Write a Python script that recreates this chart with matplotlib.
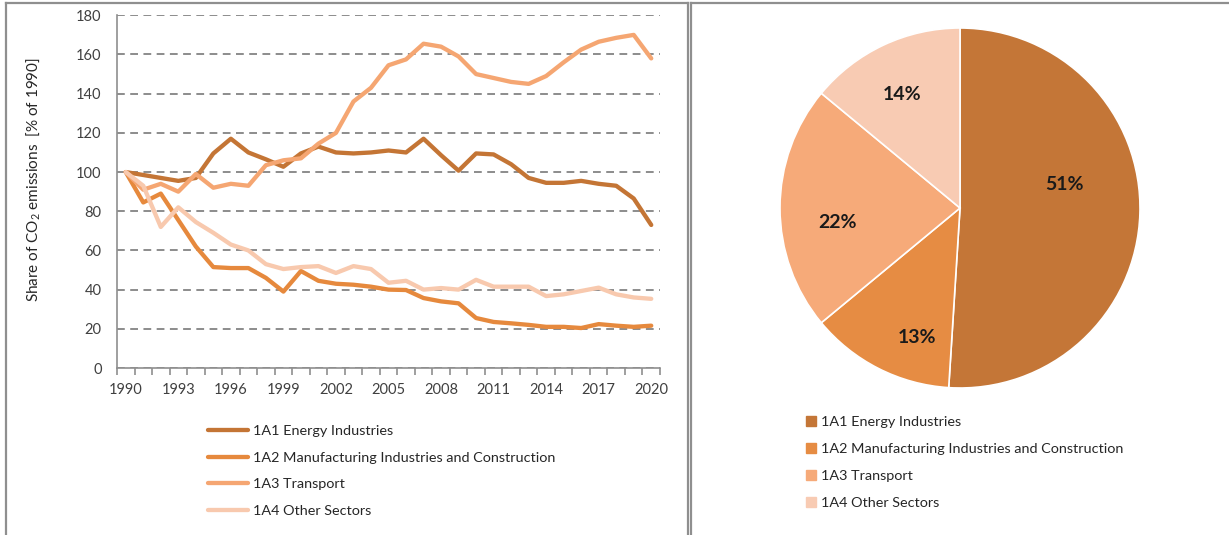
import matplotlib
matplotlib.use('Agg')
import matplotlib.pyplot as plt
from matplotlib.lines import Line2D

plt.rcParams['font.family'] = ['Lato', 'DejaVu Sans']
plt.rcParams['mathtext.fontset'] = 'custom'
plt.rcParams['mathtext.rm'] = 'Lato'
plt.rcParams['mathtext.it'] = 'Lato:italic'

# data
years = list(range(1990, 2021))
energy = [100, 98.5, 97, 95.5, 97, 109.5, 117, 110, 106.5, 102.7, 109.5, 113,
          110, 109.5, 110, 111, 110, 117, 108.6, 100.7, 109.5, 109, 104, 97,
          94.5, 94.5, 95.5, 94, 93, 86.5, 73]
manufacturing = [100, 84.5, 89, 75.5, 62, 51.5, 51, 51, 46, 39, 49.5, 44.5,
                 43, 42.5, 41.5, 40, 39.8, 35.7, 34, 33, 25.5, 23.5, 22.8, 22,
                 21, 21, 20.4, 22.4, 21.6, 21, 21.6]
transport = [100, 91, 94, 90, 99, 92, 94, 93, 103.5, 106, 107, 114.5,
             120, 136, 143, 154.5, 157.5, 165.5, 164, 159, 150, 148, 146, 145,
             149, 156, 162.5, 166.5, 168.5, 170, 158]
other = [100, 93, 72, 82, 74.5, 69, 63, 60, 53, 50.5, 51.5, 52,
         48.5, 52, 50.5, 43.5, 44.5, 40, 40.8, 40, 45, 41.5, 41.5, 41.5,
         36.7, 37.6, 39.3, 41, 37.6, 36, 35.3]

sectors = ['1A1 Energy Industries',
           '1A2 Manufacturing Industries and Construction',
           '1A3 Transport',
           '1A4 Other Sectors']
line_colors = ['#C47535', '#E6893D', '#F5A672', '#F8C9AE']
pie_colors = ['#C47637', '#E68C43', '#F6AA79', '#F8CBB3']
shares_2020 = [51, 13, 22, 14]
year_ticks = list(range(1990, 2021, 3))

W, H = 1229, 535
fig = plt.figure(figsize=(W / 100, H / 100), dpi=100)

# panel borders
border = '#8f8f8f'
def fx(px):
    return px / W
def fy(py):
    return 1 - py / H
for x0 in [6, 688, 691]:
    fig.add_artist(Line2D([fx(x0), fx(x0)], [fy(3), 0], color=border, lw=1.6))
fig.add_artist(Line2D([fx(6), fx(688)], [fy(3), fy(3)], color=border, lw=1.6))
fig.add_artist(Line2D([fx(691), 1], [fy(3), fy(3)], color=border, lw=1.6))

# line chart
ax = fig.add_axes([fx(117), fy(368), fx(660) - fx(117), fy(15.3) - fy(368)])
series = [energy, manufacturing, transport, other]
for vals, col, lab in zip(series, line_colors, sectors):
    ax.plot(years, vals, color=col, lw=3.1, label=lab, solid_capstyle='round')

ax.set_xlim(1989.5, 2020.5)
ax.set_ylim(0, 180)
ax.set_yticks(range(0, 181, 20))
ax.set_xticks(year_ticks)
ax.set_xticks([y - 0.5 for y in years] + [2020.5], minor=True)
ax.tick_params(axis='x', which='major', length=0, pad=11, labelsize=10.5, labelcolor='#404040')
ax.tick_params(axis='x', which='minor', length=5, width=1.2, color=border)
ax.tick_params(axis='y', length=0, pad=11, labelsize=10.5, labelcolor='#404040')
ax.yaxis.grid(True, color='#8c8c8c', lw=1.4, linestyle=(0, (4, 2.8)))
ax.set_axisbelow(True)
for s in ['top', 'right']:
    ax.spines[s].set_visible(False)
for s in ['left', 'bottom']:
    ax.spines[s].set_color(border)
    ax.spines[s].set_linewidth(1.2)
ax.set_ylabel('Share of CO$_2$ emissions  [% of 1990]', fontsize=11, color='#262626')
ax.yaxis.set_label_coords(fx(42), fy(180), transform=fig.transFigure)

ax.legend(loc='upper left', bbox_to_anchor=(fx(208), fy(425)),
          bbox_transform=fig.transFigure, frameon=False, fontsize=10.4,
          handlelength=2.8, handletextpad=0.35, labelspacing=1.0,
          borderpad=0, borderaxespad=0, labelcolor='#262626')

# pie chart
pax = fig.add_axes([fx(780), fy(388), fx(1140) - fx(780), fy(28) - fy(388)])
wedges, texts, autotexts = pax.pie(
    shares_2020, colors=pie_colors, startangle=90, counterclock=False,
    autopct='%d%%', pctdistance=0.65,
    wedgeprops=dict(edgecolor='white', linewidth=1.2),
    textprops=dict(fontsize=14, fontweight='bold', color='#1a1a1a'))
pax.set_xlim(-1, 1)
pax.set_ylim(-1, 1)
pax.set_aspect('equal')
# Excel-style label placement
label_pos = [(0.58, 0.13), (-0.24, -0.72), (-0.68, -0.08), (-0.32, 0.63)]
for t, pos in zip(autotexts, label_pos):
    t.set_position(pos)

handles = [Line2D([], [], marker='s', linestyle='none', markersize=7,
                  markerfacecolor=c, markeredgecolor=c) for c in pie_colors]
pax.legend(handles, sectors, loc='upper left', bbox_to_anchor=(fx(805), fy(416)),
           bbox_transform=fig.transFigure, frameon=False, fontsize=10.4,
           handlelength=0.8, handletextpad=0.3, labelspacing=1.02,
           borderpad=0, borderaxespad=0, labelcolor='#262626')

fig.savefig('out.png', dpi=100)
